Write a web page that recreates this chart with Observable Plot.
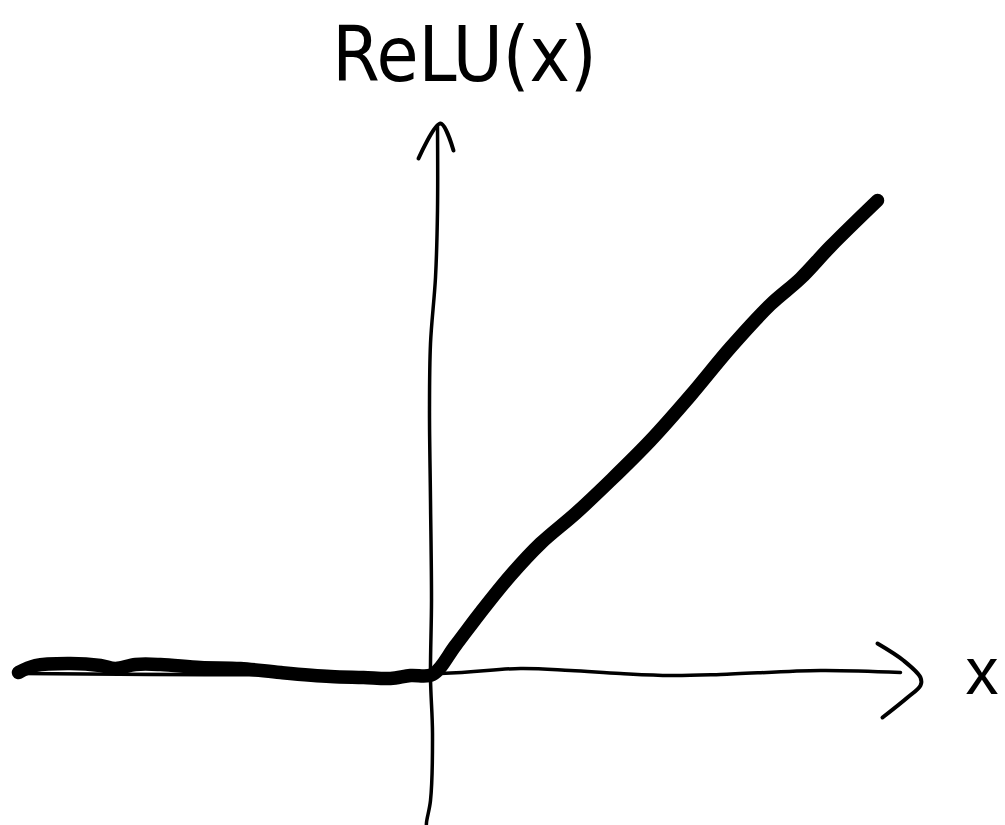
<!DOCTYPE html>
<html>
<head>
<meta charset="utf-8">
<script src="https://cdn.jsdelivr.net/npm/d3@7"></script>
<script src="https://cdn.jsdelivr.net/npm/@observablehq/plot@0.6"></script>
<style>
  html, body { margin: 0; padding: 0; background: #fff; }
  #chart svg { display: block; }
</style>
</head>
<body>
<div id="chart"></div>
<script>
// ReLU curve as hand-drawn (x, y) in chart units
const reluX = [-4.14, -3.97, -3.62, -3.32, -3.17, -2.97, -2.72, -2.32, -1.92, -1.52, -1.02, -0.69, -0.42, -0.22, 0.00,
  0.23, 0.48, 0.78, 1.08, 1.43, 1.78, 2.18, 2.58, 2.98, 3.38, 3.68, 3.98, 4.45];
const reluY = [0.01, 0.08, 0.10, 0.08, 0.05, 0.09, 0.09, 0.06, 0.05, 0.01, -0.03, -0.04, -0.05, -0.02, -0.01,
  0.28, 0.61, 0.98, 1.30, 1.60, 1.93, 2.33, 2.78, 3.26, 3.69, 3.95, 4.27, 4.73];

// vertical axis (hand-drawn)
const yAxisX = [0.05, 0.05, 0.03, -0.02, -0.03, -0.02, -0.01, -0.02, 0.00, -0.02, -0.06, -0.06];
const yAxisY = [5.48, 4.63, 3.96, 3.30, 2.63, 1.73, 0.73, -0.04, -0.60, -1.27, -1.49, -1.57];
const yArrowX = [-0.14, 0.08, 0.21];
const yArrowY = [5.15, 5.50, 5.23];

// horizontal axis (hand-drawn)
const xAxisX = [-4.12, 0.08, 0.88, 1.38, 1.88, 2.38, 2.88, 3.88, 4.68];
const xAxisY = [0.00, 0.00, 0.05, 0.03, 0.00, -0.02, -0.01, 0.03, 0.01];
const xArrowX = [4.45, 4.71, 4.88, 4.88, 4.75, 4.50];
const xArrowY = [0.30, 0.13, -0.04, -0.12, -0.24, -0.44];

// labels
const labelText = ["ReLU(x)", "x"];
const labelX = [0.32, 5.495];
const labelY = [5.93, -0.20];

const pts = (xs, ys) => xs.map((x, i) => ({x, y: ys[i]}));
const labels = labelText.map((t, i) => ({t, x: labelX[i], y: labelY[i]}));

const lineOpts = {x: "x", y: "y", stroke: "#000", strokeLinecap: "round", strokeLinejoin: "round", curve: "catmull-rom"};

const chart = Plot.plot({
  width: 1005,
  height: 825,
  margin: 0,
  style: {background: "#fff"},
  x: {domain: [-4.32, 5.73], axis: null},
  y: {domain: [-1.52, 6.73], axis: null},
  marks: [
    Plot.line(pts(xAxisX, xAxisY), {...lineOpts, strokeWidth: 3.5}),
    Plot.line(pts(xArrowX, xArrowY), {...lineOpts, strokeWidth: 4}),
    Plot.line(pts(yAxisX, yAxisY), {...lineOpts, strokeWidth: 3.5}),
    Plot.line(pts(yArrowX, yArrowY), {...lineOpts, strokeWidth: 4}),
    Plot.line(pts(reluX, reluY), {...lineOpts, strokeWidth: 13.5}),
    Plot.text(labels.slice(0, 1), {x: "x", y: "y", text: "t", fontSize: 76, lineAnchor: "bottom", textAnchor: "middle",
      fontFamily: "Liberation Sans Narrow, DejaVu Sans Condensed, sans-serif", fill: "#000"}),
    Plot.text(labels.slice(1), {x: "x", y: "y", text: "t", fontSize: 66, lineAnchor: "bottom", textAnchor: "middle",
      fontFamily: "Liberation Sans, sans-serif", fontWeight: 300, fill: "#000"})
  ]
});
document.getElementById("chart").appendChild(chart);
</script>
</body>
</html>
